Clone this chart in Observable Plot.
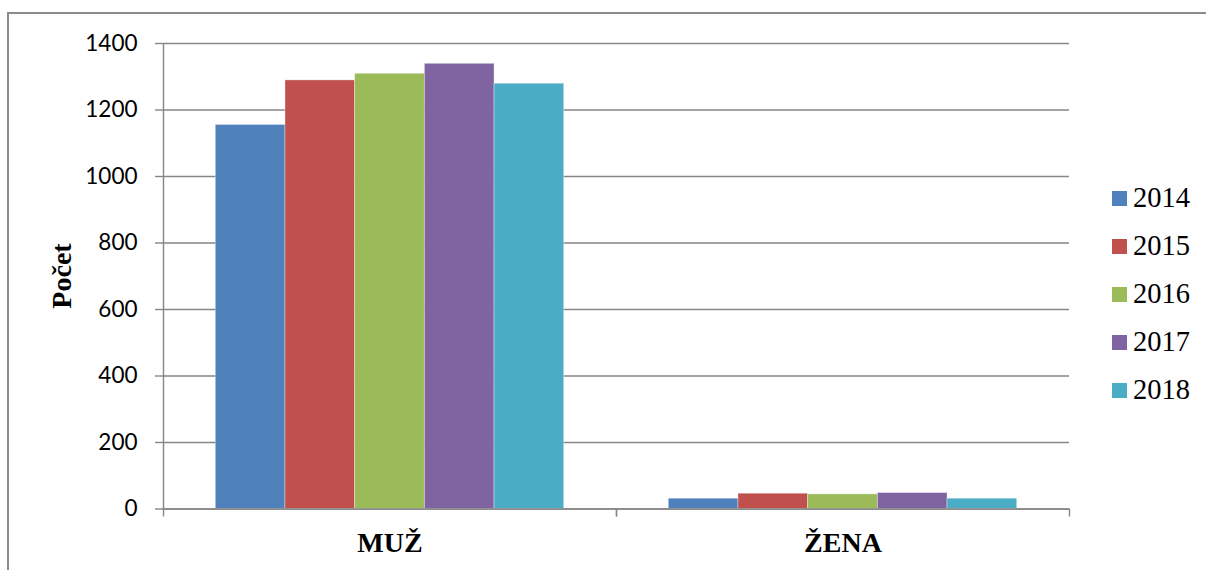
<!DOCTYPE html>
<html>
<head>
<meta charset="utf-8">
<script src="https://cdn.jsdelivr.net/npm/d3@7"></script>
<script src="https://cdn.jsdelivr.net/npm/@observablehq/plot@0.6"></script>
<style>
  body { margin: 0; background: #fff; }
  #wrap { position: relative; width: 1206px; height: 570px; overflow: hidden; background: #fff; }
  #border { position: absolute; left: 7px; top: 12px; width: 1300px; height: 700px;
            border-top: 2px solid #8c8c8c; border-left: 2px solid #8c8c8c; box-sizing: border-box; }
  #chart { position: absolute; left: 0; top: 0; }
  #ylabel { position: absolute; left: 62px; top: 276px; transform: translate(-50%, -50%) rotate(-90deg);
            font-family: "Liberation Serif", "Times New Roman", serif; font-weight: bold; font-size: 28px;
            white-space: nowrap; color: #000; line-height: 1; }
  #legend { position: absolute; left: 1112px; top: 174px; font-family: "Liberation Serif", "Times New Roman", serif;
            font-size: 28.5px; color: #000; }
  .item { display: flex; align-items: center; height: 48px; }
  .sw { width: 15px; height: 15px; margin-right: 6px; flex: none; }
</style>
</head>
<body>
<div id="wrap">
  <div id="border"></div>
  <div id="chart"></div>
  <div id="ylabel">Počet</div>
  <div id="legend"></div>
</div>
<script>
const categories = ["MUŽ", "ŽENA"];
const years = [2014, 2015, 2016, 2017, 2018];
const muzValues = [1155, 1289, 1309, 1339, 1279];
const zenaValues = [31, 46, 44, 48, 31];
const yearColors = ["#4F81BD", "#C0504D", "#9BBB59", "#8064A2", "#4BACC6"];
const yTicks = [0, 200, 400, 600, 800, 1000, 1200, 1400];

const seriesByCategory = [muzValues, zenaValues];
const rows = categories.flatMap((c, ci) =>
  years.map((yr, i) => ({category: c, year: yr, value: seriesByCategory[ci][i]})));

const outerPad = 0.75;
const xDomain = [years[0] - 0.5 - outerPad, years[years.length - 1] + 0.5 + outerPad];
const boundaries = categories.flatMap(c => xDomain.map(x => ({category: c, x})));
const axisLine = [{category: categories[0], x: xDomain[0]}];
const gridColor = "#868686";

const plot = Plot.plot({
  width: 1206,
  height: 570,
  marginLeft: 163,
  marginRight: 137,
  marginTop: 43,
  marginBottom: 61.5,
  style: {fontFamily: "Lato, 'Open Sans', sans-serif", fontSize: "22.5px", background: "transparent", color: "#000"},
  x: {domain: xDomain, axis: null},
  y: {domain: [yTicks[0], yTicks[yTicks.length - 1]]},
  fx: {domain: categories, padding: 0, axis: null},
  color: {type: "ordinal", domain: years, range: yearColors},
  marks: [
    Plot.gridY(yTicks, {stroke: gridColor, strokeOpacity: 1, strokeWidth: 1.4}),
    Plot.rectY(rows, {
      fx: "category",
      x1: d => d.year - 0.5,
      x2: d => d.year + 0.5,
      y: "value",
      fill: "year",
      stroke: "#fff",
      strokeOpacity: 0.45,
      strokeWidth: 0.8
    }),
    Plot.axisY(yTicks, {
      tickSize: 8, tickPadding: 18, stroke: gridColor, strokeWidth: 1.4,
      fill: "#000", label: null, tickFormat: d => String(d)
    }),
    Plot.ruleX(axisLine, {fx: "category", x: "x", y1: yTicks[yTicks.length - 1], y2: 0, stroke: gridColor, strokeWidth: 1.4}),
    Plot.ruleX(boundaries, {fx: "category", x: "x", y1: 0, y2: 0, insetBottom: -8, stroke: gridColor, strokeWidth: 1.4}),
    Plot.ruleY([0], {stroke: gridColor, strokeWidth: 1.4}),
    Plot.text(categories, {
      fx: d => d, text: d => d, frameAnchor: "bottom", dy: 43, lineAnchor: "bottom",
      fontFamily: "'Liberation Serif', 'Times New Roman', serif", fontWeight: "bold", fontSize: 28, fill: "#000"
    })
  ]
});
document.getElementById("chart").appendChild(plot);

const colorScale = plot.scale("color");
const legend = document.getElementById("legend");
years.forEach((yr, i) => {
  const item = document.createElement("div");
  item.className = "item";
  const sw = document.createElement("span");
  sw.className = "sw";
  sw.style.background = colorScale.range[i];
  const lab = document.createElement("span");
  lab.textContent = String(yr);
  item.appendChild(sw);
  item.appendChild(lab);
  legend.appendChild(item);
});
</script>
</body>
</html>
